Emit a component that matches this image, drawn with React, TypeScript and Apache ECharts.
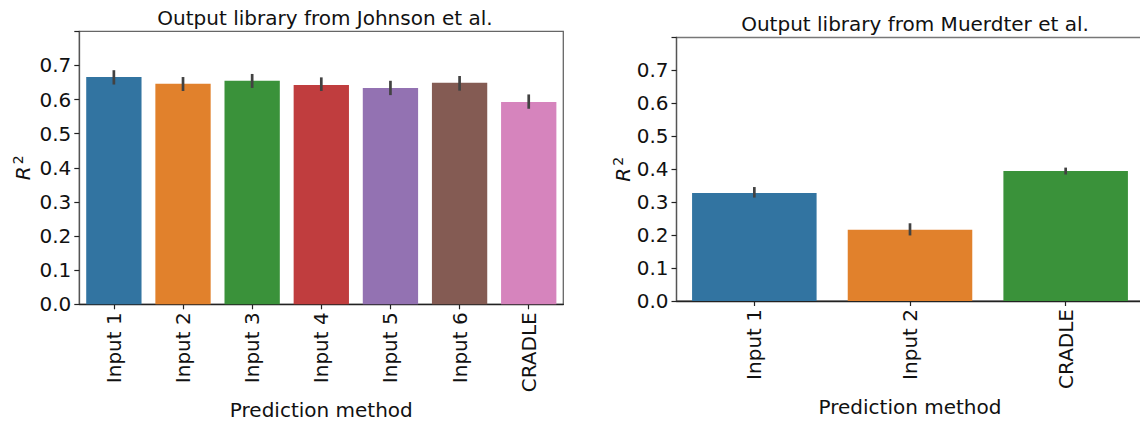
import React, { useEffect, useRef } from "react";
import * as echarts from "echarts";

const leftCategories = ["Input 1", "Input 2", "Input 3", "Input 4", "Input 5", "Input 6", "CRADLE"];
const leftValues = [0.666, 0.646, 0.655, 0.643, 0.634, 0.649, 0.593];
const leftLow = [0.644, 0.625, 0.634, 0.625, 0.613, 0.626, 0.573];
const leftHigh = [0.686, 0.666, 0.675, 0.665, 0.655, 0.669, 0.615];

const rightCategories = ["Input 1", "Input 2", "CRADLE"];
const rightValues = [0.328, 0.216, 0.395];
const rightLow = [0.314, 0.199, 0.384];
const rightHigh = [0.346, 0.236, 0.405];

const palette = ["#3274a1", "#e1812c", "#3a923a", "#c03d3e", "#9372b2", "#845b53", "#d684bd"];

const yTicks = [0, 0.1, 0.2, 0.3, 0.4, 0.5, 0.6, 0.7];

const FONT = "DejaVu Sans";

export default function App() {
  const ref = useRef<HTMLDivElement>(null);
  useEffect(() => {
    if (!ref.current) return;
    const chart = echarts.init(ref.current, undefined, { renderer: "svg" });

    const makeY = (gridIndex: number, gap: number) => ({
      type: "value",
      gridIndex,
      min: 0,
      max: 0.8,
      interval: 0.1,
      splitLine: { show: false },
      axisLine: { show: true, lineStyle: { color: "#555", width: 1.3 } },
      axisTick: { show: true, length: 5, lineStyle: { color: "#222", width: 1.2 } },
      axisLabel: {
        color: "#111",
        fontFamily: FONT,
        fontSize: 20,
        margin: 8,
        formatter: (v: number) => (yTicks.some((t) => Math.abs(t - v) < 1e-6) ? v.toFixed(1) : ""),
      },
      name: "{i|R}{s|2}",
      nameLocation: "middle",
      nameRotate: 90,
      nameGap: gap,
      nameTextStyle: {
        rich: {
          i: { fontFamily: FONT, fontStyle: "italic", fontSize: 20, color: "#111" },
          s: { fontFamily: FONT, fontSize: 14, color: "#111", verticalAlign: "top", padding: [0, 0, 10, 2] },
        },
      },
    });

    const makeX = (gridIndex: number, data: string[], gap: number) => ({
      type: "category",
      gridIndex,
      data,
      axisLine: { show: true, lineStyle: { color: "#222", width: 1.3 } },
      axisTick: { show: true, alignWithLabel: true, length: 5, lineStyle: { color: "#222", width: 1.2 } },
      axisLabel: { rotate: 90, color: "#111", fontFamily: FONT, fontSize: 20, margin: 8, interval: 0 },
      name: "Prediction method",
      nameLocation: "middle",
      nameGap: gap,
      nameTextStyle: { fontFamily: FONT, fontSize: 20, color: "#111" },
    });

    const errSeries = (idx: number, low: number[], high: number[]) => ({
      type: "custom",
      xAxisIndex: idx,
      yAxisIndex: idx,
      z: 5,
      data: low.map((l, i) => [i, l, high[i]]),
      renderItem: (params: any, api: any) => {
        const x = api.value(0);
        const a = api.coord([x, api.value(1)]);
        const b = api.coord([x, api.value(2)]);
        return {
          type: "line",
          shape: { x1: a[0], y1: a[1], x2: b[0], y2: b[1] },
          style: { stroke: "#424242", lineWidth: 2.7 },
        };
      },
    });

    chart.setOption({
      animation: false,
      title: [
        {
          text: "Output library from Johnson et al.",
          left: 320,
          top: 3,
          textAlign: "center",
          textStyle: { fontFamily: FONT, fontSize: 20, fontWeight: "normal", color: "#111" },
        },
        {
          text: "Output library from Muerdter et al.",
          left: 910,
          top: 9,
          textAlign: "center",
          textStyle: { fontFamily: FONT, fontSize: 20, fontWeight: "normal", color: "#111" },
        },
      ],
      grid: [
        { left: 79.3, top: 31.3, width: 484, height: 273, outerBoundsMode: "none", containLabel: false, show: true, borderColor: "#666", borderWidth: 1.3, backgroundColor: "transparent" },
        { left: 676.5, top: 37.5, width: 467, height: 263.5, outerBoundsMode: "none", containLabel: false, show: true, borderColor: "#777", borderWidth: 1.3, backgroundColor: "transparent" },
      ],
      xAxis: [makeX(0, leftCategories, 90), makeX(1, rightCategories, 80)],
      yAxis: [makeY(0, 44), makeY(1, 42)],
      series: [
        {
          type: "bar",
          xAxisIndex: 0,
          yAxisIndex: 0,
          barWidth: "80%",
          data: leftValues.map((v, i) => ({ value: v, itemStyle: { color: palette[i] } })),
        },
        {
          type: "bar",
          xAxisIndex: 1,
          yAxisIndex: 1,
          barWidth: "80%",
          data: rightValues.map((v, i) => ({ value: v, itemStyle: { color: palette[i] } })),
        },
        errSeries(0, leftLow, leftHigh),
        errSeries(1, rightLow, rightHigh),
      ],
    });
    return () => chart.dispose();
  }, []);
  return (
    <div
      ref={ref}
      style={{ position: "fixed", left: 0, top: 0, width: 1140, height: 423, background: "#fff" }}
    />
  );
}
